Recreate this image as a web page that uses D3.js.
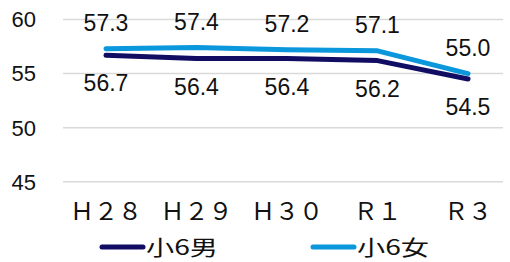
<!DOCTYPE html>
<html>
<head>
<meta charset="utf-8">
<script src="https://cdn.jsdelivr.net/npm/d3@7"></script>
<style>
body { margin: 0; background: #fff; }
svg { display: block; }
</style>
</head>
<body>
<div id="chart"></div>
<script>
const categories = ["Ｈ２８", "Ｈ２９", "Ｈ３０", "Ｒ１", "Ｒ３"];
const boys = [56.7, 56.4, 56.4, 56.2, 54.5];
const girls = [57.3, 57.4, 57.2, 57.1, 55.0];
const yTicks = [45, 50, 55, 60];
const seriesNames = ["小6男", "小6女"];

const width = 510;
const height = 262;
const navy = "#110d62";
const blue = "#0a97dc";

const svg = d3.select("#chart")
	.append("svg")
	.attr("width", width)
	.attr("height", height);

const x = d3.scalePoint()
	.domain(categories)
	.range([106, 468]);
const y = d3.scaleLinear()
	.domain([45, 60])
	.range([181.7, 19.5]);

// gridlines
svg.append("g")
	.selectAll("line")
	.data(yTicks)
	.enter().append("line")
	.attr("x1", 63)
	.attr("x2", 503)
	.attr("y1", d => y(d))
	.attr("y2", d => y(d))
	.attr("stroke", "#d9d9d9")
	.attr("stroke-width", 1.5);

// y labels
svg.append("g")
	.selectAll("text")
	.data(yTicks)
	.enter().append("text")
	.attr("x", 36)
	.attr("y", d => y(d))
	.attr("dy", "0.36em")
	.attr("text-anchor", "end")
	.attr("font-family", "Liberation Sans, Arial, sans-serif")
	.attr("font-size", 22)
	.attr("fill", "#111")
	.text(d => d);

// x labels
svg.append("g")
	.selectAll("text")
	.data(categories)
	.enter().append("text")
	.attr("x", d => x(d))
	.attr("y", 220)
	.attr("text-anchor", "middle")
	.attr("font-family", "Noto Sans CJK JP, sans-serif")
	.attr("font-size", 24)
	.attr("fill", "#111")
	.text(d => d);

const line = d3.line()
	.x((d, i) => x(categories[i]))
	.y(d => y(d));

svg.append("path")
	.datum(boys)
	.attr("fill", "none")
	.attr("stroke", navy)
	.attr("stroke-width", 5)
	.attr("stroke-linecap", "round")
	.attr("stroke-linejoin", "round")
	.attr("d", line);

svg.append("path")
	.datum(girls)
	.attr("fill", "none")
	.attr("stroke", blue)
	.attr("stroke-width", 5)
	.attr("stroke-linecap", "round")
	.attr("stroke-linejoin", "round")
	.attr("d", line);

// data labels
const labelFont = "Liberation Sans, Arial, sans-serif";
svg.append("g")
	.selectAll("text")
	.data(girls)
	.enter().append("text")
	.attr("x", (d, i) => x(categories[i]))
	.attr("y", d => y(d) - 26)
	.attr("dy", "0.36em")
	.attr("text-anchor", "middle")
	.attr("font-family", labelFont)
	.attr("font-size", 23)
	.attr("fill", "#111")
	.text(d => d.toFixed(1));

svg.append("g")
	.selectAll("text")
	.data(boys)
	.enter().append("text")
	.attr("x", (d, i) => x(categories[i]))
	.attr("y", d => y(d) + 28)
	.attr("dy", "0.36em")
	.attr("text-anchor", "middle")
	.attr("font-family", labelFont)
	.attr("font-size", 23)
	.attr("fill", "#111")
	.text(d => d.toFixed(1));

// legend
const legend = svg.append("g")
	.selectAll("g")
	.data(seriesNames)
	.enter().append("g")
	.attr("transform", (d, i) => `translate(${102 + i * 211}, 247)`);
legend.append("line")
	.attr("x1", 0)
	.attr("x2", 41)
	.attr("stroke", (d, i) => i === 0 ? navy : blue)
	.attr("stroke-width", 5)
	.attr("stroke-linecap", "round");
legend.append("text")
	.attr("x", 44)
	.attr("dy", "0.36em")
	.attr("font-family", "Noto Sans CJK JP, sans-serif")
	.attr("font-size", 21)
	.attr("textLength", 72)
	.attr("lengthAdjust", "spacingAndGlyphs")
	.attr("fill", "#111")
	.text(d => d);
</script>
</body>
</html>
